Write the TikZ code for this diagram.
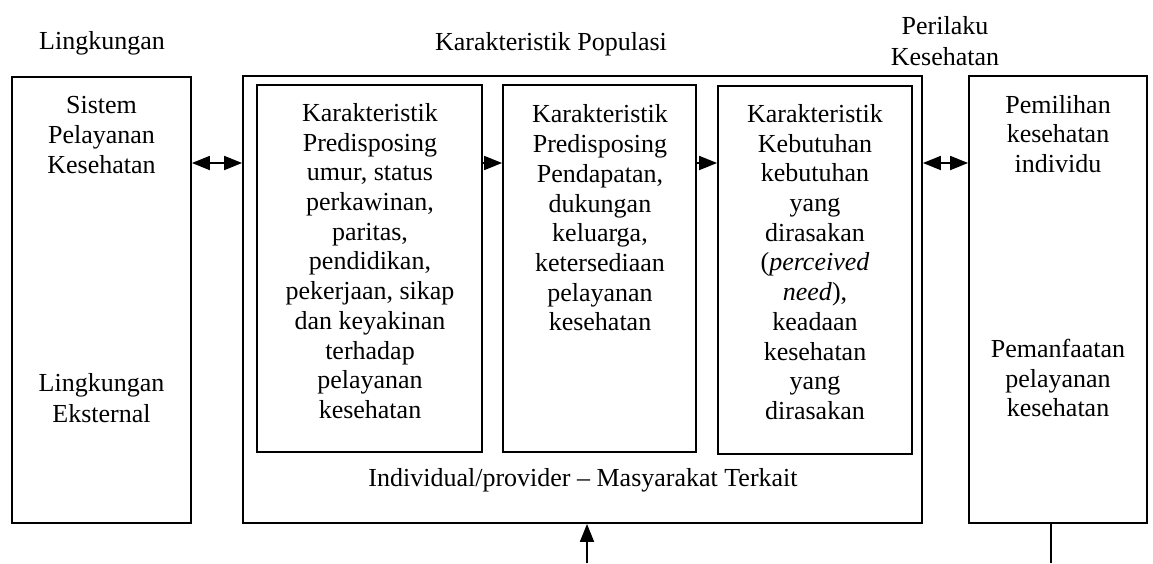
\documentclass[tikz,border=0pt]{standalone}
\usepackage{fontspec}
\setmainfont{Liberation Serif}
\usetikzlibrary{arrows.meta}
\tikzset{
  frame/.style={draw, line width=1.8pt, inner sep=0pt},
  txt/.style={inner sep=0pt, align=center, font=\fontsize{26}{29.7}\selectfont},
  conn/.style={line width=1.8pt},
  tip/.style={-{Triangle[length=18pt,width=14pt]}},
  dtip/.style={{Triangle[length=18pt,width=14pt]}-{Triangle[length=18pt,width=14pt]}}
}
\begin{document}
\begin{tikzpicture}[x=1pt,y=-1pt]
\useasboundingbox (0,0) rectangle (1153,563);
% frames
\node[frame, minimum width=179pt, minimum height=446pt] (lbox) at (101.5,300) {};
\node[frame, minimum width=679pt, minimum height=447pt] (big) at (582.5,299.5) {};
\node[frame, minimum width=225pt, minimum height=367pt] (b1) at (369.5,268.5) {};
\node[frame, minimum width=193pt, minimum height=367pt] (b2) at (599.5,268.5) {};
\node[frame, minimum width=194pt, minimum height=368pt] (b3) at (815,270) {};
\node[frame, minimum width=178pt, minimum height=447pt] (rbox) at (1058,299.5) {};
% titles
\node[txt] (tl) at (102,43) {Lingkungan};
\node[txt] (tp) at (551,44) {Karakteristik Populasi};
\node[txt, font=\fontsize{26}{31}\selectfont] (tk) at (945,41) {Perilaku\\Kesehatan};
% texts
\node[txt] (l1) at (101.5,135) {Sistem\\Pelayanan\\Kesehatan};
\node[txt, font=\fontsize{26}{31}\selectfont] (l2) at (101.5,398) {Lingkungan\\Eksternal};
\node[txt] (t1) at (370,261) {Karakteristik\\Predisposing\\umur, status\\perkawinan,\\paritas,\\pendidikan,\\pekerjaan, sikap\\dan keyakinan\\terhadap\\pelayanan\\kesehatan};
\node[txt] (t2) at (600,218) {Karakteristik\\Predisposing\\Pendapatan,\\dukungan\\keluarga,\\ketersediaan\\pelayanan\\kesehatan};
\node[txt] (t3) at (815,262) {Karakteristik\\Kebutuhan\\kebutuhan\\yang\\dirasakan\\(\textit{perceived}\\\textit{need}),\\keadaan\\kesehatan\\yang\\dirasakan};
\node[txt] (ind) at (583,480) {Individual/provider – Masyarakat Terkait};
\node[txt] (r1) at (1058,134) {Pemilihan\\kesehatan\\individu};
\node[txt] (r2) at (1058,378) {Pemanfaatan\\pelayanan\\kesehatan};
% connectors
\coordinate (ay) at (0,163);
\coordinate (bot1) at (587,563);
\coordinate (bot2) at (1051,563);
\draw[conn, dtip] (lbox.east |- ay) -- (big.west |- ay);
\draw[conn, tip] (b1.east |- ay) -- (b2.west |- ay);
\draw[conn, tip] (b2.east |- ay) -- (b3.west |- ay);
\draw[conn, dtip] (big.east |- ay) -- (rbox.west |- ay);
\draw[conn, tip] (bot1) -- (big.south -| bot1);
\draw[conn] (rbox.south -| bot2) -- (bot2);
\end{tikzpicture}
\end{document}
